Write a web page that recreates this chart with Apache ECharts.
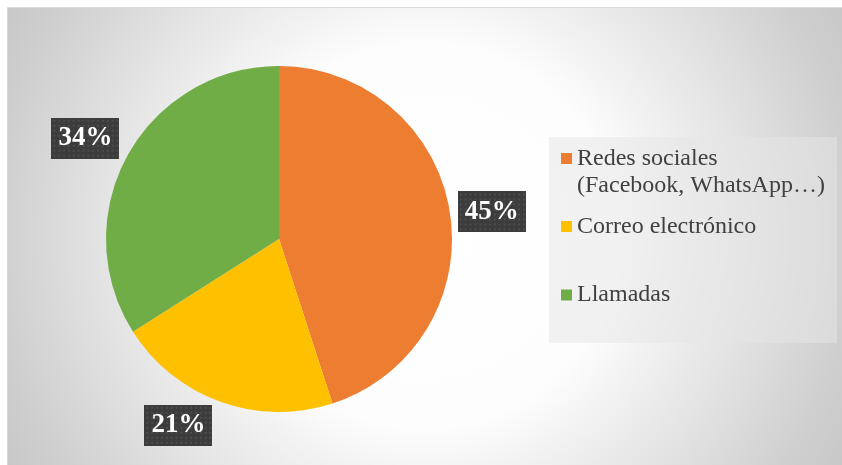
<!DOCTYPE html>
<html>
<head>
<meta charset="utf-8">
<script src="https://cdn.jsdelivr.net/npm/echarts@6/dist/echarts.min.js"></script>
<style>
  html, body { margin: 0; padding: 0; background: #ffffff; }
  #chart { width: 842px; height: 465px; }
</style>
</head>
<body>
<div id="chart"></div>
<script>
// Canales de comunicación (porcentaje)
const categories = ['Redes sociales (Facebook, WhatsApp…)', 'Correo electrónico', 'Llamadas'];
const values = [45, 21, 34];
const colors = ['#ED7D31', '#FFC000', '#70AD47'];

const PIE_CENTER = [279, 239];
const PIE_RADIUS = 173;
const START_ANGLE = 90;

const total = values.reduce((a, b) => a + b, 0);

// Point on the rim at a slice's mid angle
function rimAnchor(i) {
  let before = 0;
  for (let k = 0; k < i; k++) before += values[k];
  const mid = before + values[i] / 2;
  const ang = (START_ANGLE - 360 * mid / total) * Math.PI / 180;
  return {
    cos: Math.cos(ang),
    sin: Math.sin(ang),
    x: PIE_CENTER[0] + PIE_RADIUS * Math.cos(ang),
    y: PIE_CENTER[1] - PIE_RADIUS * Math.sin(ang)
  };
}

// Dark dotted fill for the value tags
function dottedTile() {
  const c = document.createElement('canvas');
  c.width = 70;
  c.height = 41;
  const g = c.getContext('2d');
  g.fillStyle = '#3c3c3c';
  g.fillRect(0, 0, c.width, c.height);
  g.fillStyle = '#4d4d4d';
  for (let y = 2; y < c.height; y += 5) {
    for (let x = 2; x < c.width; x += 5) {
      g.fillRect(x, y, 2, 2);
    }
  }
  return c;
}

const chart = echarts.init(document.getElementById('chart'), null, { renderer: 'canvas' });

const legendText = {
  fontFamily: 'Liberation Serif',
  fontSize: 24,
  lineHeight: 27,
  color: '#404040'
};

function legendFor(idx, top, extra) {
  return Object.assign({
    data: [categories[idx]],
    left: 561,
    top: top,
    padding: 0,
    itemWidth: 11,
    itemHeight: 11,
    itemGap: 0,
    icon: 'rect',
    selectedMode: false,
    textStyle: Object.assign({}, legendText)
  }, extra || {});
}

chart.setOption({
  animation: false,
  color: colors,
  graphic: [
    {
      type: 'rect',
      z: -10,
      silent: true,
      shape: { x: 7.5, y: 7.5, width: 840, height: 462 },
      style: {
        stroke: '#d9d9d9',
        lineWidth: 1,
        fill: new echarts.graphic.RadialGradient(425, 236, 480, [
          { offset: 0, color: '#ffffff' },
          { offset: 0.4, color: '#fdfdfd' },
          { offset: 0.5, color: '#f3f3f3' },
          { offset: 0.7, color: '#e1e1e1' },
          { offset: 0.88, color: '#d0d0d0' },
          { offset: 1, color: '#c7c7c7' }
        ], true)
      }
    },
    {
      type: 'rect',
      z: -5,
      silent: true,
      shape: { x: 549, y: 137, width: 288, height: 206 },
      style: { fill: 'rgba(229,229,229,0.5)' }
    }
  ],
  legend: [
    // leading blank line keeps the marker level with the first line of text
    legendFor(0, 118, {
      formatter: name => '\n' + name.replace(' (', '\n(')
    }),
    legendFor(1, 213),
    legendFor(2, 281.5)
  ],
  series: [
    {
      type: 'pie',
      center: PIE_CENTER,
      radius: PIE_RADIUS,
      startAngle: START_ANGLE,
      clockwise: true,
      avoidLabelOverlap: false,
      itemStyle: { borderWidth: 0 },
      emphasis: { disabled: true },
      data: categories.map((name, i) => ({ name: name, value: values[i] })),
      label: {
        show: true,
        position: 'inside',
        formatter: '{c}%',
        color: '#ffffff',
        fontFamily: 'Liberation Serif',
        fontWeight: 'bold',
        fontSize: 27,
        lineHeight: 29,
        backgroundColor: { image: dottedTile() },
        padding: [6, 7, 6, 7],
        shadowColor: 'rgba(0,0,0,0.35)',
        shadowBlur: 4,
        shadowOffsetX: 2,
        shadowOffsetY: 2
      },
      labelLine: { show: false },
      labelLayout: function (params) {
        const a = rimAnchor(params.dataIndex);
        const right = a.cos >= 0;
        let vAlign;
        if (Math.abs(a.sin) < 0.35) vAlign = 'middle';
        else vAlign = a.sin > 0 ? 'bottom' : 'top';
        return {
          x: a.x + (right ? 8 : -8),
          y: vAlign === 'middle' ? a.y : a.y + 3,
          align: right ? 'left' : 'right',
          verticalAlign: vAlign
        };
      }
    }
  ]
});
</script>
</body>
</html>
